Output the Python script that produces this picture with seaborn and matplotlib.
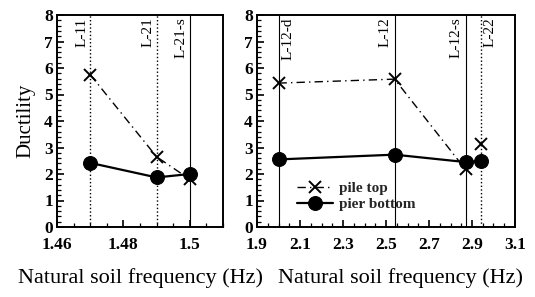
import matplotlib
matplotlib.use("Agg")
import matplotlib.pyplot as plt
import seaborn as sns
import pandas as pd
from matplotlib.ticker import MultipleLocator, FixedLocator

sns.set_theme(style="ticks")
plt.rcParams['font.family'] = ['Liberation Serif', 'DejaVu Serif']

# Left panel data
left_freq = [1.47, 1.49, 1.50]
left_pile_top = [5.75, 2.65, 1.80]
left_pier_bottom = [2.42, 1.87, 2.00]
left_cases = ["L-11", "L-21", "L-21-s"]
left_case_styles = [":", ":", "-"]
left_label_side = ["left", "left", "left"]

# Right panel data
right_freq = [2.00, 2.54, 2.87, 2.94]
right_pile_top = [5.43, 5.58, 2.17, 3.12]
right_pier_bottom = [2.55, 2.73, 2.45, 2.50]
right_cases = ["L-12-d", "L-12", "L-12-s", "L-22"]
right_case_styles = ["-", "-", "-", ":"]
right_label_side = ["right", "left", "left", "right"]

left_xticks = [1.46, 1.48, 1.50]
left_xticklabels = ["1.46", "1.48", "1.5"]
right_xticks = [1.9, 2.1, 2.3, 2.5, 2.7, 2.9, 3.1]
right_xticklabels = ["1.9", "2.1", "2.3", "2.5", "2.7", "2.9", "3.1"]
yticks = list(range(0, 9))

fig = plt.figure(figsize=(5.35, 2.97), dpi=100)
axL = fig.add_axes([57/535, 70/297, 166/535, 212/297])
axR = fig.add_axes([257/535, 70/297, 258/535, 212/297])

DASHDOT = (0, (6, 3, 1, 3))
XKW = dict(marker="x", markersize=9, mew=1.4, mec="black", mfc="black")
OKW = dict(marker="o", markersize=10, mec="black", mfc="black")

def draw_cases(ax, freqs, cases, styles, sides, xr):
    for f, c, s, side in zip(freqs, cases, styles, sides):
        ax.axvline(f, color="black", lw=0.8 if s == "-" else 1.0, ls=s, zorder=1)
        off = -0.012 * xr if side == "left" else 0.012 * xr
        ax.text(f + off, 7.9, c, rotation=90, ha="right" if side == "left" else "left",
                va="top", fontsize=11, color="black")

# Left
dfL = pd.DataFrame({"f": left_freq, "pile": left_pile_top, "pier": left_pier_bottom})
draw_cases(axL, left_freq, left_cases, left_case_styles, left_label_side, 0.05)
sns.lineplot(data=dfL, x="f", y="pile", ax=axL, color="black", lw=1.0, ls=DASHDOT,
             zorder=3, **XKW)
sns.lineplot(data=dfL, x="f", y="pier", ax=axL, color="black", lw=1.6, zorder=4, **OKW)

# Right
dfR = pd.DataFrame({"f": right_freq, "pile": right_pile_top, "pier": right_pier_bottom})
draw_cases(axR, right_freq, right_cases, right_case_styles, right_label_side, 1.2)
sns.lineplot(data=dfR.iloc[:3], x="f", y="pile", ax=axR, color="black", lw=1.0,
             ls=DASHDOT, zorder=3, label="pile top", **XKW)
sns.lineplot(data=dfR.iloc[3:], x="f", y="pile", ax=axR, color="black", lw=1.0,
             zorder=3, **XKW)
sns.lineplot(data=dfR, x="f", y="pier", ax=axR, color="black", lw=1.6, zorder=4,
             label="pier bottom", **OKW)

leg = axR.legend(loc="upper left", bbox_to_anchor=(0.13, 0.245), frameon=False,
                 prop={"size": 11, "weight": "bold"}, handlelength=2.4,
                 handletextpad=0.4, labelspacing=0.15, borderaxespad=0)

for ax, xl, xt, xtl in [(axL, (1.46, 1.51), left_xticks, left_xticklabels),
                        (axR, (1.9, 3.1), right_xticks, right_xticklabels)]:
    ax.set_xlim(*xl)
    ax.set_ylim(0, 8)
    ax.xaxis.set_major_locator(FixedLocator(xt))
    ax.set_xticklabels(xtl, fontsize=12.5, fontweight="bold")
    ax.set_yticks(yticks)
    ax.set_yticklabels([str(v) for v in yticks], fontsize=12.5, fontweight="bold")
    ax.yaxis.set_minor_locator(MultipleLocator(0.2))
    ax.tick_params(axis="both", which="major", direction="in", length=5, width=1.2,
                   color="black", pad=7, labelcolor="black")
    ax.tick_params(axis="both", which="minor", direction="in", length=3, width=0.9,
                   color="black")
    for sp in ax.spines.values():
        sp.set_visible(True)
        sp.set_color("black")
        sp.set_linewidth(1.4)
    ax.set_xlabel("Natural soil frequency (Hz)", fontsize=16, color="black")
    ax.set_ylabel("")
    ax.grid(False)

axL.xaxis.set_minor_locator(MultipleLocator(0.005))
axR.xaxis.set_minor_locator(MultipleLocator(0.05))
axL.set_ylabel("Ductility", fontsize=15, labelpad=6, color="black")
axL.xaxis.set_label_coords(0.50, -0.195)
axR.xaxis.set_label_coords(0.555, -0.195)
axR.tick_params(axis="y", pad=3)
axL.tick_params(axis="y", pad=3)

fig.savefig("out.png", dpi=100)
